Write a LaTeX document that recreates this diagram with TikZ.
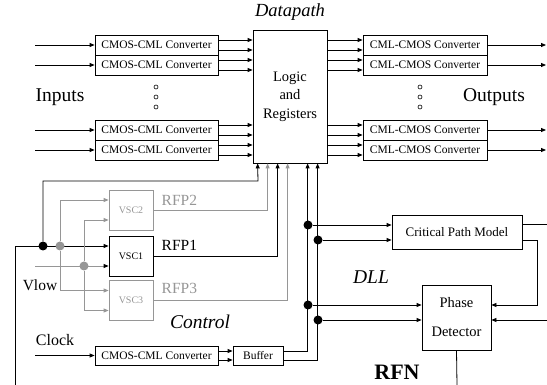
\documentclass[tikz,border=0pt]{standalone}
\usepackage{fontspec}
\setmainfont{Liberation Serif}
\usepackage{tikz}
\usetikzlibrary{arrows.meta,calc}
\definecolor{lgray}{RGB}{150,150,150}

\begin{document}
\begin{tikzpicture}[x=1pt,y=-1pt,line width=0.8pt]
\tikzstyle{conv}=[rectangle,draw,minimum width=123pt,minimum height=20pt,inner sep=0pt,font=\fontsize{11.5}{12}\selectfont]
\tikzstyle{vsc}=[rectangle,draw,minimum width=44pt,minimum height=40pt,inner sep=0pt,font=\fontsize{10}{11}\selectfont]
\tikzstyle{gvsc}=[vsc,draw=lgray,text=lgray]
\tikzstyle{arr}=[-{Triangle[length=5pt,width=4pt]}]
\tikzstyle{garr}=[arr,draw=lgray]
\tikzstyle{bdot}=[circle,fill=black,inner sep=0pt,minimum size=9pt]
\tikzstyle{gdot}=[circle,fill=lgray,inner sep=0pt,minimum size=9pt]
\tikzstyle{odot}=[circle,draw,line width=0.6pt,inner sep=0pt,minimum size=4pt]
\tikzstyle{big}=[font=\fontsize{19.5}{20}\selectfont]
\tikzstyle{mid}=[font=\fontsize{15.5}{16}\selectfont]
\useasboundingbox (0,0) rectangle (547,385);
% datapath
\node [big,font=\fontsize{18.5}{19}\selectfont\itshape] (dp) at (290,12) {Datapath};
\node [rectangle,draw,minimum width=74pt,minimum height=133pt,align=center,font=\fontsize{14.5}{18.5}\selectfont] (logic) at (290,96.5) {Logic\\and\\Registers};
\node [conv] (in1) at (156.5,45) {CMOS-CML Converter};
\node [conv] (in2) at (156.5,65) {CMOS-CML Converter};
\node [conv] (in3) at (156.5,130) {CMOS-CML Converter};
\node [conv] (in4) at (156.5,150) {CMOS-CML Converter};
\node [conv,minimum width=124pt] (out1) at (425,45) {CML-CMOS Converter};
\node [conv,minimum width=124pt] (out2) at (425,65) {CML-CMOS Converter};
\node [conv,minimum width=124pt] (out3) at (425,130) {CML-CMOS Converter};
\node [conv,minimum width=124pt] (out4) at (425,150) {CML-CMOS Converter};
\node [big] (inputs) at (60,97) {Inputs};
\node [big] (outputs) at (494,97) {Outputs};
\node [odot] (ld1) at (156,87) {};
\node [odot] (ld2) at (156,97) {};
\node [odot] (ld3) at (156,107) {};
\node [odot] (rd1) at (420,87) {};
\node [odot] (rd2) at (420,97) {};
\node [odot] (rd3) at (420,107) {};
\coordinate (i1) at (35,45);
\coordinate (i2) at (35,65);
\coordinate (i3) at (35,130);
\coordinate (i4) at (35,150);
\coordinate (o1) at (546,45);
\coordinate (o2) at (546,65);
\coordinate (o3) at (546,130);
\coordinate (o4) at (546,150);
\draw [arr] (i1) -- (in1);
\draw [arr] (i2) -- (in2);
\draw [arr] (i3) -- (in3);
\draw [arr] (i4) -- (in4);
\draw [arr] (out1) -- (o1);
\draw [arr] (out2) -- (o2);
\draw [arr] (out3) -- (o3);
\draw [arr] (out4) -- (o4);
\foreach \n in {1,2,3,4}{
  \draw [arr] ([yshift=5pt]in\n.east) -- ([yshift=5pt]in\n.east -| logic.west);
  \draw [arr] ([yshift=-5pt]in\n.east) -- ([yshift=-5pt]in\n.east -| logic.west);
  \draw [arr] ([yshift=5pt]out\n.west -| logic.east) -- ([yshift=5pt]out\n.west);
  \draw [arr] ([yshift=-5pt]out\n.west -| logic.east) -- ([yshift=-5pt]out\n.west);
}
% control
\node [gvsc] (vsc2) at (131,210) {VSC2};
\node [vsc] (vsc1) at (131,256) {VSC1};
\node [gvsc] (vsc3) at (131,300.5) {VSC3};
\node [mid,text=lgray,anchor=west] (rfp2) at (158,200) {RFP2};
\node [mid,anchor=west] (rfp1) at (158,245) {RFP1};
\node [mid,text=lgray,anchor=west] (rfp3) at (158,288) {RFP3};
\node [mid] (vlow) at (40,285) {Vlow};
\coordinate (p1) at ([xshift=5pt]logic.south west);
\coordinate (p2) at ([xshift=15pt]logic.south west);
\coordinate (p3) at ([xshift=25pt]logic.south west);
\coordinate (p4) at ([xshift=35pt]logic.south west);
\coordinate (p5) at ([xshift=55pt]logic.south west);
\coordinate (p6) at ([xshift=65pt]logic.south west);
\coordinate (fbl) at (15,385);
\coordinate (vl) at (35,266);
\coordinate (ca) at (258,181);
\draw [arr] (fbl) |- ([yshift=10pt]vsc1.west);
\draw [lgray,-{Triangle[length=5pt,width=4pt,black]}] (vl) -- ([yshift=-10pt]vsc1.west);
\node [bdot] (da) at (43,246) {};
\node [gdot] (db) at (60,246) {};
\node [gdot] (dc) at (84,266) {};
\draw [arr] (da) |- (ca) -- (p1);
\draw [garr] (db) |- ([yshift=10pt]vsc2.west);
\draw [garr] (db) |- ([yshift=10pt]vsc3.west);
\draw [garr] (dc) |- ([yshift=-10pt]vsc2.west);
\draw [garr] (dc) |- ([yshift=-10pt]vsc3.west);
\draw [garr] (vsc2.east) -| (p2);
\draw [arr] (vsc1.east) -| (p3);
\draw [garr] (vsc3.east) -| (p4);
\node [big,font=\fontsize{19.5}{20}\selectfont\itshape] (ctrl) at (200,322) {Control};
% clock
\node [mid,font=\fontsize{16}{17}\selectfont] (clock) at (55,340) {Clock};
\node [conv,minimum height=19pt] (cconv) at (156.5,355.5) {CMOS-CML Converter};
\node [conv,minimum width=50pt,minimum height=19pt] (buf) at (258,355.5) {Buffer};
\coordinate (ck) at (35,355.5);
\draw [arr] (ck) -- (cconv);
\draw [arr] ([yshift=4.5pt]cconv.east) -- ([yshift=4.5pt]buf.west);
\draw [arr] ([yshift=-4.5pt]cconv.east) -- ([yshift=-4.5pt]buf.west);
\draw [arr] ([yshift=4.5pt]buf.east) -| (p5);
\draw [arr] ([yshift=-4.5pt]buf.east) -| (p6);
% DLL
\node [rectangle,draw,minimum width=130pt,minimum height=34pt,font=\fontsize{13}{14}\selectfont] (cpm) at (457,232) {Critical Path Model};
\node [rectangle,draw,minimum width=69pt,minimum height=65pt,align=center,font=\fontsize{14.5}{29}\selectfont] (pd) at (456.5,317.5) {Phase\\Detector};
\node [bdot] (d1) at (308,225) {};
\node [bdot] (d2) at (318,240) {};
\node [bdot] (d3) at (308,305) {};
\node [bdot] (d4) at (318,320) {};
\draw [arr] (d1) -- (d1 -| cpm.west);
\draw [arr] (d2) -- (d2 -| cpm.west);
\draw [arr] (d3) -- (d3 -| pd.west);
\draw [arr] (d4) -- (d4 -| pd.west);
\coordinate (e1) at (547,224);
\coordinate (k1) at (537,240);
\coordinate (e2) at (547,320);
\coordinate (e3) at (457,385);
\draw (e1 -| cpm.east) -- (e1);
\draw [arr] (k1 -| cpm.east) -- (k1) |- (d3 -| pd.east);
\draw [arr] (e2) -- (e2 -| pd.east);
\draw (pd.south) -- (e3);
\node [big,font=\fontsize{19.5}{20}\selectfont\itshape] (dll) at (371,277) {DLL};
\node [font=\fontsize{22}{23}\selectfont\bfseries] (rfn) at (397,372) {RFN};
\end{tikzpicture}
\end{document}
